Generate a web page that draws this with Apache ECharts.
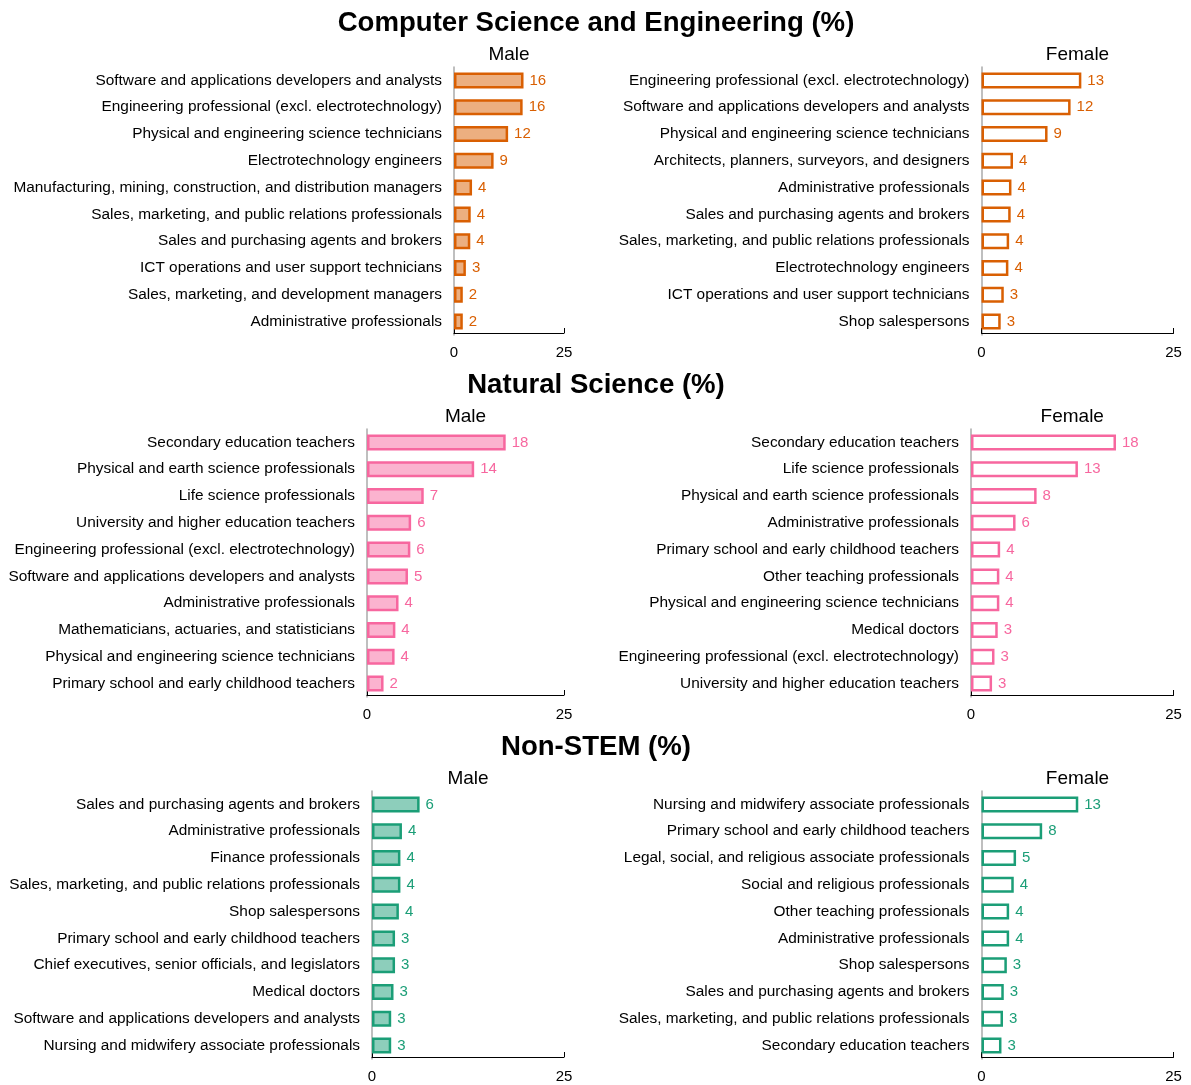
<!DOCTYPE html>
<html>
<head>
<meta charset="utf-8">
<title>Occupations by field of study and gender</title>
<script src="https://cdn.jsdelivr.net/npm/echarts@6/dist/echarts.min.js"></script>
<style>
  html, body { margin: 0; padding: 0; background: #fff; }
  #chart { width: 1191px; height: 1085px; }
</style>
</head>
<body>
<div id="chart"></div>
<script>
// Section titles
const sectionTitles = ['Computer Science and Engineering (%)', 'Natural Science (%)', 'Non-STEM (%)'];
const genderTitles = ['Male', 'Female'];

// Axis ticks (percent)
const axisMin = 0;
const axisMax = 25;

// Computer Science and Engineering
const csMaleCats = [
  'Software and applications developers and analysts',
  'Engineering professional (excl. electrotechnology)',
  'Physical and engineering science technicians',
  'Electrotechnology engineers',
  'Manufacturing, mining, construction, and distribution managers',
  'Sales, marketing, and public relations professionals',
  'Sales and purchasing agents and brokers',
  'ICT operations and user support technicians',
  'Sales, marketing, and development managers',
  'Administrative professionals'
];
const csMaleVals = [15.8, 15.6, 12.3, 9.0, 4.1, 3.8, 3.7, 2.7, 2.0, 2.0];

const csFemaleCats = [
  'Engineering professional (excl. electrotechnology)',
  'Software and applications developers and analysts',
  'Physical and engineering science technicians',
  'Architects, planners, surveyors, and designers',
  'Administrative professionals',
  'Sales and purchasing agents and brokers',
  'Sales, marketing, and public relations professionals',
  'Electrotechnology engineers',
  'ICT operations and user support technicians',
  'Shop salespersons'
];
const csFemaleVals = [13.0, 11.6, 8.6, 4.1, 3.9, 3.8, 3.6, 3.5, 2.9, 2.5];

// Natural Science
const nsMaleCats = [
  'Secondary education teachers',
  'Physical and earth science professionals',
  'Life science professionals',
  'University and higher education teachers',
  'Engineering professional (excl. electrotechnology)',
  'Software and applications developers and analysts',
  'Administrative professionals',
  'Mathematicians, actuaries, and statisticians',
  'Physical and engineering science technicians',
  'Primary school and early childhood teachers'
];
const nsMaleVals = [17.6, 13.6, 7.2, 5.6, 5.5, 5.2, 4.0, 3.6, 3.5, 2.1];

const nsFemaleCats = [
  'Secondary education teachers',
  'Life science professionals',
  'Physical and earth science professionals',
  'Administrative professionals',
  'Primary school and early childhood teachers',
  'Other teaching professionals',
  'Physical and engineering science technicians',
  'Medical doctors',
  'Engineering professional (excl. electrotechnology)',
  'University and higher education teachers'
];
const nsFemaleVals = [17.9, 13.2, 8.1, 5.5, 3.6, 3.5, 3.5, 3.3, 2.9, 2.6];

// Non-STEM
const nonMaleCats = [
  'Sales and purchasing agents and brokers',
  'Administrative professionals',
  'Finance professionals',
  'Sales, marketing, and public relations professionals',
  'Shop salespersons',
  'Primary school and early childhood teachers',
  'Chief executives, senior officials, and legislators',
  'Medical doctors',
  'Software and applications developers and analysts',
  'Nursing and midwifery associate professionals'
];
const nonMaleVals = [6.2, 3.9, 3.7, 3.7, 3.5, 3.0, 3.0, 2.8, 2.5, 2.5];

const nonFemaleCats = [
  'Nursing and midwifery associate professionals',
  'Primary school and early childhood teachers',
  'Legal, social, and religious associate professionals',
  'Social and religious professionals',
  'Other teaching professionals',
  'Administrative professionals',
  'Shop salespersons',
  'Sales and purchasing agents and brokers',
  'Sales, marketing, and public relations professionals',
  'Secondary education teachers'
];
const nonFemaleVals = [12.6, 7.9, 4.5, 4.2, 3.6, 3.6, 3.3, 2.9, 2.8, 2.6];

// Colours per section: outline and translucent fill
const sectionColors = ['#d95f02', '#f7679f', '#1b9e77'];
const sectionFills = ['rgba(217,95,2,0.5)', 'rgba(247,103,159,0.5)', 'rgba(27,158,119,0.5)'];

// Panel geometry: one row per section, male then female
const sectionTops = [67, 429, 791];
const titleTops = [9, 371, 733];
const panelBoxes = [
  [{ left: 454, width: 110 }, { left: 981.5, width: 192 }],
  [{ left: 367, width: 197 }, { left: 971, width: 202.5 }],
  [{ left: 372, width: 192 }, { left: 981.5, width: 192 }]
];
const gridHeight = 268;

const panels = [
  [[csMaleCats, csMaleVals], [csFemaleCats, csFemaleVals]],
  [[nsMaleCats, nsMaleVals], [nsFemaleCats, nsFemaleVals]],
  [[nonMaleCats, nonMaleVals], [nonFemaleCats, nonFemaleVals]]
];

const FONT = '"Liberation Sans", Arial, Helvetica, sans-serif';

const grids = [], xAxes = [], yAxes = [], series = [], titles = [];

panels.forEach((pair, s) => {
  titles.push({
    text: sectionTitles[s],
    left: 596, top: titleTops[s], textAlign: 'center', padding: 0,
    textStyle: { fontFamily: FONT, fontSize: 27.6, fontWeight: 'bold', color: '#000' }
  });
  pair.forEach(([cats, vals], g) => {
    const idx = grids.length;
    const box = panelBoxes[s][g];
    grids.push({ left: box.left, width: box.width, top: sectionTops[s], height: gridHeight });
    titles.push({
      text: genderTitles[g],
      left: box.left + box.width / 2, top: sectionTops[s] - 22, textAlign: 'center', padding: 0,
      textStyle: { fontFamily: FONT, fontSize: 19, fontWeight: 'normal', color: '#000' }
    });
    xAxes.push({
      gridIndex: idx, type: 'value', min: axisMin, max: axisMax, interval: 25,
      offset: -2,
      axisLine: { show: true, lineStyle: { color: '#000', width: 1 } },
      axisTick: { show: true, inside: true, length: 5, lineStyle: { color: '#000' } },
      axisLabel: { color: '#000', fontFamily: FONT, fontSize: 15, margin: 12 },
      splitLine: { show: false }
    });
    yAxes.push({
      gridIndex: idx, type: 'category', data: cats, inverse: true,
      axisLine: { show: true, lineStyle: { color: '#aaaaaa', width: 1.5 } },
      axisTick: { show: false },
      axisLabel: { color: '#000', fontFamily: FONT, fontSize: 15.4, margin: 12 }
    });
    series.push({
      type: 'bar', xAxisIndex: idx, yAxisIndex: idx, data: vals,
      barWidth: 16,
      itemStyle: {
        color: g === 0 ? sectionFills[s] : '#ffffff',
        borderColor: sectionColors[s], borderWidth: 2.5
      },
      label: {
        show: true, position: 'right', distance: 6,
        formatter: p => String(Math.round(p.value)),
        color: sectionColors[s], fontFamily: FONT, fontSize: 15
      },
      silent: true, animation: false
    });
  });
});

const chart = echarts.init(document.getElementById('chart'), null, { renderer: 'canvas' });
chart.setOption({
  backgroundColor: '#ffffff',
  animation: false,
  title: titles,
  grid: grids,
  xAxis: xAxes,
  yAxis: yAxes,
  series: series
});
</script>
</body>
</html>
